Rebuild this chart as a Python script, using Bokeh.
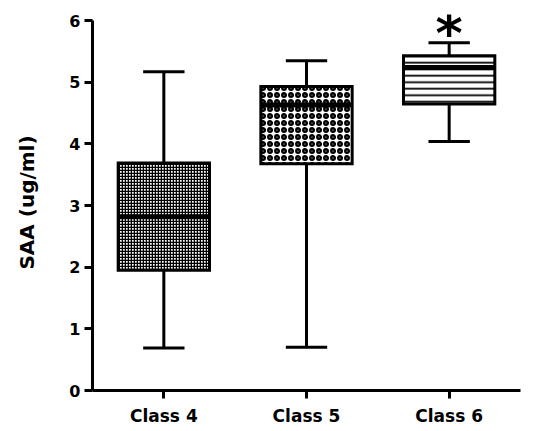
from bokeh.plotting import figure
from bokeh.models import Range1d, FixedTicker
from bokeh.core.properties import value
from bokeh.embed import file_html
from bokeh.resources import INLINE

# ---- data ----
categories = ["Class 4", "Class 5", "Class 6"]
whisker_low = [0.69, 0.70, 4.04]
q1 = [1.95, 3.68, 4.65]
median = [2.82, 4.63, 5.24]
q3 = [3.69, 4.93, 5.43]
whisker_high = [5.17, 5.35, 5.64]
significance = ["", "", "*"]
y_ticks = [0, 1, 2, 3, 4, 5, 6]

xs = [i + 1 for i in range(len(categories))]

FONT = "DejaVu Sans"

p = figure(width=545, height=431, output_backend="svg", toolbar_location=None,
           x_range=Range1d(0.5, 3.5), y_range=Range1d(0, 6.1),
           min_border_left=92, min_border_right=25, min_border_top=14, min_border_bottom=41)
p.outline_line_color = None
p.xgrid.visible = False
p.ygrid.visible = False
p.background_fill_color = "white"
p.border_fill_color = "white"

box_w = 0.64
cap_w = 0.29
LW = 3

# whiskers
p.segment(x0=xs, y0=whisker_low, x1=xs, y1=q1, line_color="black", line_width=LW)
p.segment(x0=xs, y0=q3, x1=xs, y1=whisker_high, line_color="black", line_width=LW)
# caps
p.rect(x=xs, y=whisker_low, width=cap_w, height=LW, height_units="screen",
       fill_color="black", line_color=None)
p.rect(x=xs, y=whisker_high, width=cap_w, height=LW, height_units="screen",
       fill_color="black", line_color=None)

# boxes (fill textures)
styles = [
    dict(hatch_pattern="cross", hatch_scale=3, hatch_weight=1.6, hatch_color="black"),
    dict(hatch_pattern="ring", hatch_scale=7, hatch_weight=2.4, hatch_color="black"),
    dict(hatch_pattern="horizontal_line", hatch_scale=6.5, hatch_weight=1.8, hatch_color="black"),
]
for i in range(len(categories)):
    p.vbar(x=[xs[i]], top=[q3[i]], bottom=[q1[i]], width=box_w,
           fill_color="white", line_color="black", line_width=LW, line_join="miter",
           **styles[i])

# medians
p.rect(x=xs, y=median, width=box_w, height=5, height_units="screen",
       fill_color="black", line_color=None)

# significance star
p.text(x=xs, y=whisker_high, text=significance, text_align="center",
       text_baseline="alphabetic", y_offset=-10,
       text_font=value(FONT), text_font_style="bold", text_font_size="52px", text_color="black")

# axes
p.xaxis.ticker = FixedTicker(ticks=xs)
p.xaxis.major_label_overrides = {x: c for x, c in zip(xs, categories)}
p.yaxis.ticker = FixedTicker(ticks=y_ticks)
p.yaxis.bounds = (y_ticks[0], y_ticks[-1])
for ax in (p.xaxis[0], p.yaxis[0]):
    ax.axis_line_width = LW
    ax.axis_line_color = "black"
    ax.major_tick_line_width = LW
    ax.major_tick_line_color = "black"
    ax.major_tick_out = 8
    ax.major_tick_in = 0
    ax.minor_tick_out = 0
    ax.minor_tick_in = 0
    ax.major_label_text_font = FONT
    ax.major_label_text_font_style = "bold"
    ax.major_label_text_color = "black"

p.xaxis.major_label_text_font_size = "17px"
p.xaxis.major_label_standoff = 7
p.yaxis.major_label_text_font_size = "16px"
p.yaxis.major_label_standoff = 4
p.yaxis.axis_label = "SAA (ug/ml)"
p.yaxis.axis_label_text_font = FONT
p.yaxis.axis_label_text_font_style = "bold"
p.yaxis.axis_label_text_font_size = "20px"
p.yaxis.axis_label_text_color = "black"
p.yaxis.axis_label_standoff = 27

open("out.html", "w").write(file_html(p, INLINE))
